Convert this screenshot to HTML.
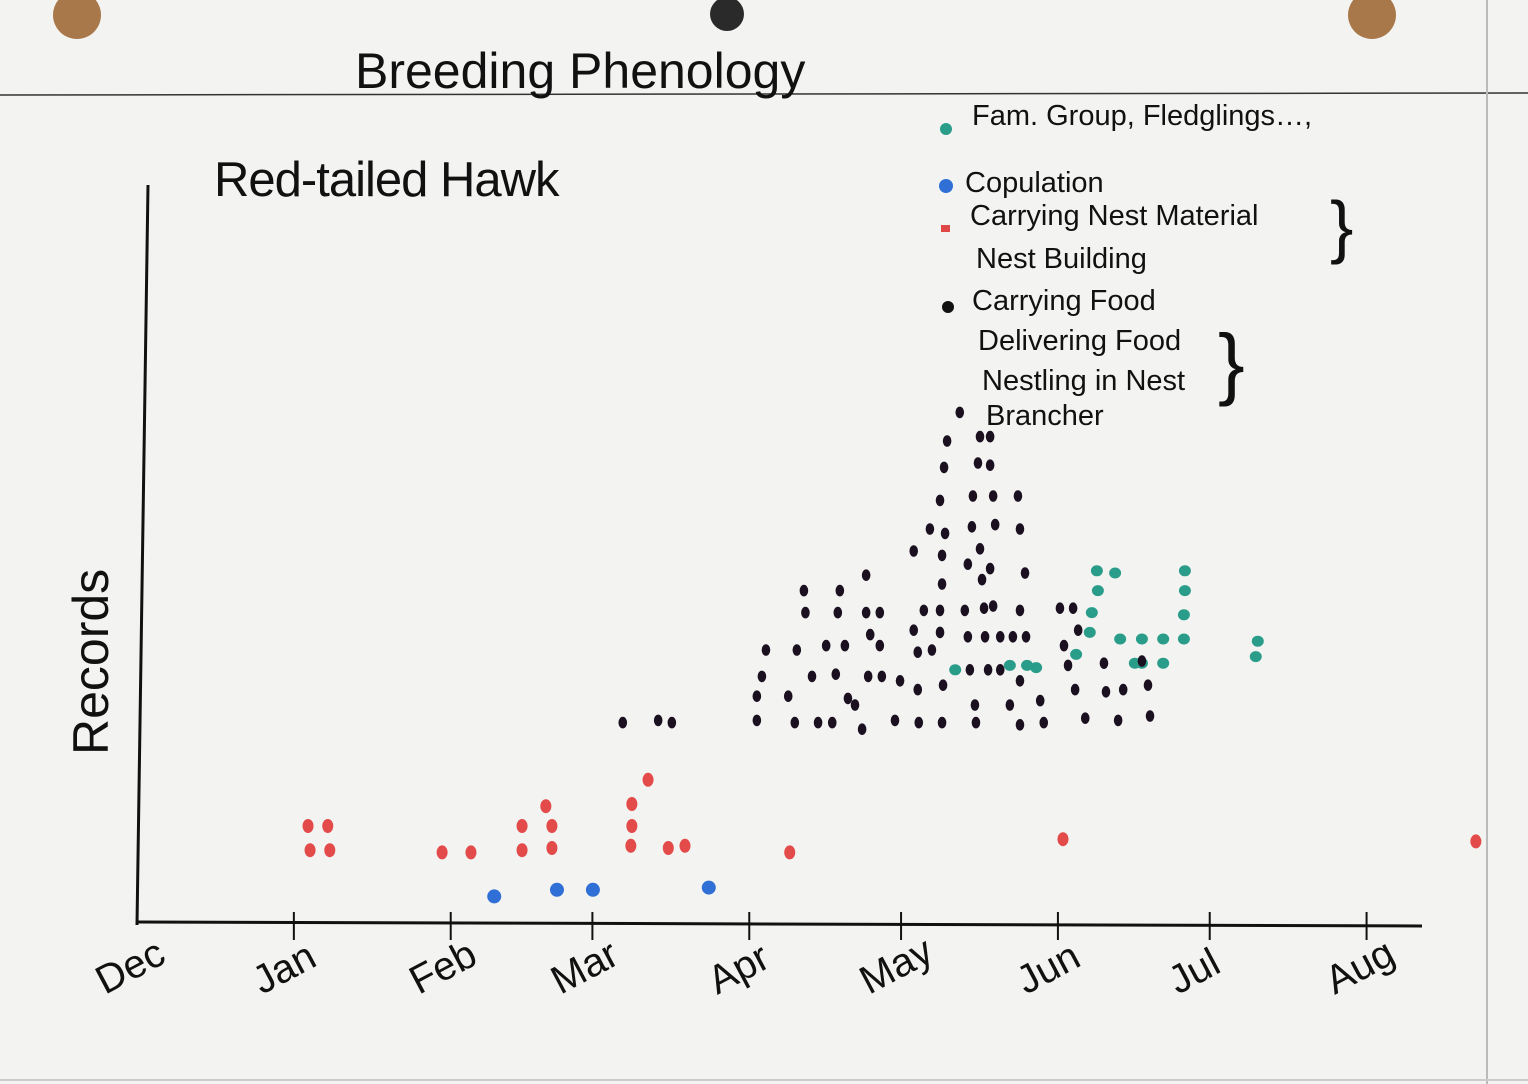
<!DOCTYPE html>
<html><head><meta charset="utf-8"><style>
html,body{margin:0;padding:0;background:#f2f2f0;}
svg{display:block}
text{font-family:"Liberation Sans",sans-serif;fill:#111}
</style></head><body>
<svg id="chart" width="1528" height="1084" viewBox="0 0 1528 1084">
<rect x="0" y="0" width="1528" height="1084" fill="#f3f3f1"/>
<line x1="0" y1="95" x2="1528" y2="93" stroke="#333" stroke-width="1.5"/>
<line x1="1487" y1="0" x2="1487" y2="1084" stroke="#bbb" stroke-width="2"/>
<line x1="0" y1="1080" x2="1528" y2="1080" stroke="#ccc" stroke-width="2"/>
<circle cx="77" cy="15" r="24" fill="#a9784a"/>
<circle cx="1372" cy="15" r="24" fill="#a9784a"/>
<circle cx="727" cy="14" r="17" fill="#2a2a2a"/>
<text x="355" y="88" font-size="50">Breeding Phenology</text>
<text x="214" y="196" font-size="49" letter-spacing="-1">Red-tailed Hawk</text>
<text transform="translate(108,755) rotate(-90)" font-size="50">Records</text>
<line x1="148" y1="185" x2="137" y2="925" stroke="#111" stroke-width="3"/>
<line x1="137" y1="922" x2="1422" y2="926" stroke="#111" stroke-width="3"/>
<g id="ticks"></g>
<g id="marks"></g>
<g font-size="29">
<circle cx="946" cy="129" r="6" fill="#2a9d8a"/>
<text x="972" y="125">Fam. Group, Fledglings…,</text>
<circle cx="946" cy="186" r="7" fill="#2f6fd6"/>
<text x="965" y="192">Copulation</text>
<rect x="941" y="225" width="9" height="7" fill="#e04848"/>
<text x="970" y="225">Carrying Nest Material</text>
<text x="976" y="268">Nest Building</text>
<text x="1330" y="250" font-size="70">}</text>
<circle cx="948" cy="307" r="6" fill="#111"/>
<text x="972" y="310">Carrying Food</text>
<text x="978" y="350">Delivering Food</text>
<text x="982" y="390">Nestling in Nest</text>
<text x="986" y="425">Brancher</text>
<text x="1218" y="390" font-size="80">}</text>
</g>
</svg>
<script>
const monthLabels=["Dec","Jan","Feb","Mar","Apr","May","Jun","Jul","Aug"];
const monthStartDays=[0,31,62,90,121,151,182,212,243];
const redDays=[33.8,37.7,34.2,38.1,60.3,66,76.1,82,80.8,76.1,82,97.8,97.8,97.6,101,105,108.3,129,183,264.6];
const redVals=[4.5,4.5,3.4,3.4,3.3,3.3,4.5,4.5,5.4,3.4,3.5,5.5,4.5,3.6,6.6,3.5,3.6,3.3,3.9,3.8];
const blueDays=[70.6,83,90.1,113];
const blueVals=[1.3,1.6,1.6,1.7];
const tealDays=[189.7,193.3,189.9,188.7,188.3,185.6,207.1,207.1,206.9,206.9,202.8,198.6,202.8,197.2,198.6,221.5,221.1,161.7,172.5,177.7,175.9,194.3];
const tealVals=[16.1,16,15.2,14.2,13.3,12.3,16.1,15.2,14.1,13,13,13,11.9,11.9,11.9,12.9,12.2,11.6,11.8,11.7,11.8,13];
const blackDays=[96,103,105.7,122.5,122.5,124.3,123.5,128.7,130,130.4,131.8,132.1,133.4,134.6,136.2,137.4,138.1,138.9,138.5,139.9,140.5,141.9,143.3,144.1,144.1,144.5,144.9,146.8,146.8,147.2,149.8,150.8,153.5,153.5,154.3,154.3,154.5,155.5,157.1,156.7,158.7,159.5,160.1,159.3,159.1,159.1,159.7,158.7,158.7,159.1,162.6,163.6,164.2,165.6,165.8,165.2,165,166.2,166.6,168.6,168.6,169.2,169.6,167.4,168.6,166.6,164.2,167,169.2,167.6,164.6,168.2,170.6,170.6,172.5,173.1,174.1,174.5,174.5,175.5,174.5,175.7,179.2,178.5,174.5,182.4,185,183.2,186,184,185.4,187.4,191.1,191.5,193.9,194.9,198.6,199.8,200.2];
const blackVals=[9.2,9.3,9.2,10.4,9.3,12.5,11.3,10.4,9.2,12.5,15.2,14.2,11.3,9.2,12.7,9.2,11.4,15.2,14.2,12.7,10.3,10,8.9,15.9,14.2,11.3,13.2,14.2,12.7,11.3,9.3,11.1,17,13.4,12.4,10.7,9.2,14.3,12.5,18,19.3,20.8,22,10.9,15.5,16.8,17.8,14.3,13.3,9.2,23.3,14.3,13.1,10,9.2,19.5,18.1,21,22.2,22.2,20.9,19.5,18.2,14.4,16.2,17.1,16.4,15.7,14.5,13.1,11.6,11.6,11.6,13.1,10,13.1,19.5,18,14.3,16,9.1,13.1,9.2,10.2,11.1,14.4,14.4,12.7,13.4,11.8,10.7,9.4,11.9,10.6,9.3,10.7,12,10.9,9.5];
const NS="http://www.w3.org/2000/svg";
function xScale(d){return 137+d*5.06;}
function yScale(v){return 925-v*22;}
const tg=document.getElementById('ticks');
monthLabels.forEach((m,i)=>{
  const x=xScale(monthStartDays[i]);
  if(i>0){const t=document.createElementNS(NS,'line');
  t.setAttribute('x1',x);t.setAttribute('x2',x);t.setAttribute('y1',912);t.setAttribute('y2',940);
  t.setAttribute('stroke','#111');t.setAttribute('stroke-width','2');
  
  
  tg.appendChild(t);}
  const l=document.createElementNS(NS,'text');
  l.textContent=m;l.setAttribute('font-size','40');
  l.setAttribute('transform','translate('+(x-32)+',995) rotate(-28)');
  
  
  tg.appendChild(l);
});
const mg=document.getElementById('marks');
function draw(days,vals,color,rx,ry,name){
  days.forEach((d,i)=>{
    const e=document.createElementNS(NS,'ellipse');
    e.setAttribute('cx',xScale(d));e.setAttribute('cy',yScale(vals[i]));
    e.setAttribute('rx',rx);e.setAttribute('ry',ry);e.setAttribute('fill',color);
    
    
    mg.appendChild(e);
  });
}
draw(redDays,redVals,'#e34a4a',5.5,7,'nest-material');
draw(blueDays,blueVals,'#2f6fd6',7,7,'copulation');
draw(tealDays,tealVals,'#2a9d8a',6,5.5,'family-group');
draw(blackDays,blackVals,'#1a1020',4.3,5.8,'carrying-food');
</script>
</body></html>
